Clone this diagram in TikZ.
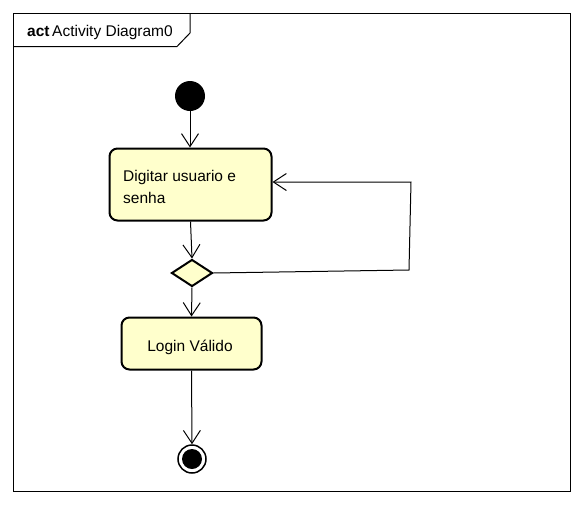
\documentclass[tikz,border=0pt]{standalone}
\usepackage{fontspec}
\setmainfont{Liberation Sans}
\usetikzlibrary{arrows.meta,shapes.geometric}
\definecolor{actfill}{HTML}{FFFFCC}
\tikzset{
  flow/.style={draw=black, line width=1pt, -{Straight Barb[length=13pt,width=17pt,line width=1pt]}},
  action/.style={draw=black, line width=2pt, fill=actfill, rounded corners=8pt, inner sep=0pt},
  decision/.style={draw=black, line width=2pt, fill=actfill, diamond, minimum width=41pt, minimum height=27pt, inner sep=0pt, aspect=1.5},
  txt/.style={font=\fontsize{15.5}{22}\selectfont}
}
\begin{document}
\begin{tikzpicture}[x=1pt,y=-1pt]
\useasboundingbox (0,0) rectangle (584,504);
% frame
\draw[line width=1pt] (13,13) rectangle (570,491);
\draw[line width=1pt] (13,46.5) -- (177,46.5) -- (190,33) -- (190,13);
\node[txt, anchor=base west, inner sep=0pt] (hdr) at (27,36) {\textbf{act}\,Activity Diagram0};
% initial
\node[circle, fill=black, minimum size=30pt, inner sep=0pt] (init) at (190,96) {};
% action 1
\node[action, minimum width=162pt, minimum height=72pt] (a1) at (190.5,184.5) {};
\node[txt, anchor=base west, inner sep=0pt, align=left] (a1t) at (123,181) {Digitar usuario e};
\node[txt, anchor=base west, inner sep=0pt] (a1t2) at (123,203) {senha};
% decision
\node[decision] (dec) at (192,273) {};
% action 2
\node[action, minimum width=140pt, minimum height=52pt] (a2) at (191.5,343.5) {};
\node[txt, anchor=base, inner sep=0pt] (a2t) at (190,351) {Login Válido};
% final
\node[circle, draw=black, line width=1.5pt, fill=white, minimum size=28pt, inner sep=0pt] (fin) at (192,459) {};
\node[circle, fill=black, minimum size=20pt, inner sep=0pt] (fin2) at (192,459) {};
% flows
\draw[flow] (init) -- (a1.north -| init);
\draw[flow] (a1.south) -- (dec.north);
\draw[flow] (dec.south) -- (a2.north);
\draw[flow] (a2.south) -- (fin.north);
\coordinate (c1) at (409,270);
\coordinate (c2) at (411,182);
\draw[flow] (dec.east) -- (c1) -- (c2) -- (a1.east |- c2);
\end{tikzpicture}
\end{document}
